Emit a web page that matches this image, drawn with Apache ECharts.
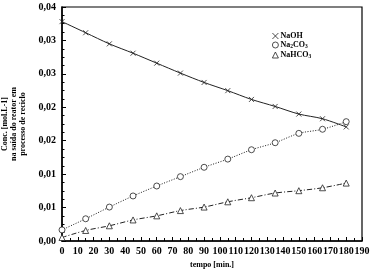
<!DOCTYPE html>
<html>
<head>
<meta charset="utf-8">
<script src="https://cdn.jsdelivr.net/npm/echarts@6/dist/echarts.min.js"></script>
<style>
html,body{margin:0;padding:0;background:#fff;}
#chart{width:373px;height:271px;}
</style>
</head>
<body>
<div id="chart"></div>
<script>
// tempo [min.]
var tempos = [0, 15, 30, 45, 60, 75, 90, 105, 120, 135, 150, 165, 180];
var NaOH = [0.0375, 0.0356, 0.0337, 0.0321, 0.0304, 0.0287, 0.0271, 0.0257, 0.0242, 0.0230, 0.0217, 0.0209, 0.0195];
var Na2CO3 = [0.0019, 0.0038, 0.0058, 0.0077, 0.0094, 0.0110, 0.0126, 0.0140, 0.0156, 0.0168, 0.0184, 0.0191, 0.0204];
var NaHCO3 = [0.0006, 0.0018, 0.0026, 0.0036, 0.0043, 0.0052, 0.0058, 0.0067, 0.0074, 0.0082, 0.0086, 0.0091, 0.0099];
var yTickLabels = ['0,00', '0,01', '0,01', '0,02', '0,02', '0,03', '0,03', '0,04'];

function pares(vals){
	var out = [];
	for (var i = 0; i < tempos.length; i++) {
		out.push([tempos[i], vals[i]]);
	}
	return out;
}

var chart = echarts.init(document.getElementById('chart'));
var fonte = 'Liberation Serif';
var cruz = 'path://M0,0L10,10M10,0L0,10';

var option = {
	animation : false,
	backgroundColor : '#fff',
	textStyle : {fontFamily : fonte},
	grid : {
		left : 62,
		right : 11,
		top : 7,
		bottom : 30,
		outerBoundsMode : 'none',
		containLabel : false,
		show : true,
		borderColor : '#000',
		borderWidth : 1.2
	},
	legend : {
		orient : 'vertical',
		left : 267,
		top : 27,
		itemWidth : 6,
		itemHeight : 6,
		itemGap : 1,
		textStyle : {
			fontFamily : fonte,
			fontWeight : 'bold',
			fontSize : 8,
			color : '#000',
			padding : [0, 0, 0, -3],
			rich : {
				s : {fontSize : 5.5, fontWeight : 'bold', verticalAlign : 'bottom', padding : [4, 0, 0, 0]},
				n : {fontSize : 8, fontWeight : 'bold'}
			}
		},
		formatter : function(name){
			if (name === 'Na2CO3') return '{n|Na}{s|2}{n|CO}{s|3}';
			if (name === 'NaHCO3') return '{n|NaHCO}{s|3}';
			return '{n|' + name + '}';
		},
		data : [
			{name : 'NaOH', icon : cruz, itemStyle : {color : '#fff', borderColor : '#222', borderWidth : 0.8}},
			{name : 'Na2CO3', icon : 'circle', itemStyle : {color : '#fff', borderColor : '#222', borderWidth : 0.8}},
			{name : 'NaHCO3', icon : 'triangle', itemStyle : {color : '#fff', borderColor : '#222', borderWidth : 0.8}}
		]
	},
	xAxis : {
		type : 'value',
		min : 0,
		max : 190,
		interval : 10,
		name : 'tempo [min.]',
		nameLocation : 'middle',
		nameGap : 20,
		nameTextStyle : {fontFamily : fonte, fontWeight : 'bold', fontSize : 8, color : '#000'},
		axisLine : {lineStyle : {color : '#000', width : 1.5}},
		axisTick : {inside : true, length : 4, lineStyle : {color : '#000'}},
		minorTick : {show : true, splitNumber : 2, length : 3, lineStyle : {color : '#000'}},
		splitLine : {show : false},
		axisLabel : {
			fontFamily : fonte, fontWeight : 'bold', fontSize : 10, color : '#000',
			margin : 5, hideOverlap : false, showMaxLabel : true
		}
	},
	yAxis : {
		type : 'value',
		min : 0,
		max : 0.04,
		interval : 0.04 / 7,
		name : 'Conc. [mol.L-1]\nna saída do reator em\nprocesso de reciclo',
		nameLocation : 'middle',
		nameGap : 34,
		nameTextStyle : {fontFamily : fonte, fontWeight : 'bold', fontSize : 8, color : '#000', lineHeight : 9},
		axisLine : {show : true, lineStyle : {color : '#000', width : 1.5}},
		axisTick : {inside : true, length : 4, lineStyle : {color : '#000'}},
		minorTick : {show : true, splitNumber : 4, length : 2.5, lineStyle : {color : '#000'}},
		splitLine : {show : false},
		axisLabel : {
			fontFamily : fonte, fontWeight : 'bold', fontSize : 10, color : '#000', margin : 6,
			formatter : function(v, idx){ return yTickLabels[idx]; }
		}
	},
	series : [{
		name : 'NaOH',
		type : 'line',
		data : pares(NaOH),
		smooth : 0.3,
		symbol : cruz,
		symbolSize : 5,
		lineStyle : {color : '#222', width : 1},
		itemStyle : {color : '#fff', borderColor : '#222', borderWidth : 0.8}
	}, {
		name : 'Na2CO3',
		type : 'line',
		data : pares(Na2CO3),
		smooth : 0.3,
		symbol : 'circle',
		symbolSize : 6,
		lineStyle : {color : '#222', width : 1, type : [1, 1.5]},
		itemStyle : {color : '#fff', borderColor : '#222', borderWidth : 0.8}
	}, {
		name : 'NaHCO3',
		type : 'line',
		data : pares(NaHCO3),
		smooth : 0.3,
		symbol : 'triangle',
		symbolSize : 6,
		lineStyle : {color : '#222', width : 1, type : [5, 2, 1, 2]},
		itemStyle : {color : '#fff', borderColor : '#222', borderWidth : 0.8}
	}]
};

chart.setOption(option);
</script>
</body>
</html>
